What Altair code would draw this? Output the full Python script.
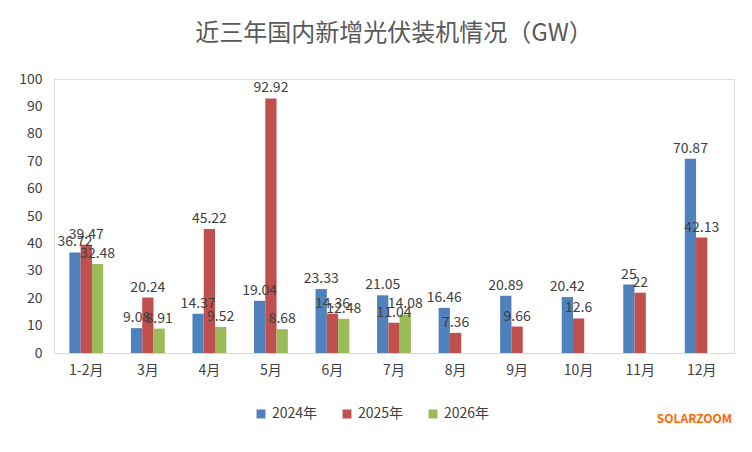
import altair as alt
import pandas as pd

months = ["1-2月", "3月", "4月", "5月", "6月", "7月", "8月", "9月", "10月", "11月", "12月"]
y2024 = [36.72, 9.08, 14.37, 19.04, 23.33, 21.05, 16.46, 20.89, 20.42, 25, 70.87]
y2025 = [39.47, 20.24, 45.22, 92.92, 14.36, 11.04, 7.36, 9.66, 12.6, 22, 42.13]
y2026 = [32.48, 8.91, 9.52, 8.68, 12.48, 14.08]
series = ["2024年", "2025年", "2026年"]
colors = ["#4f81bd", "#c0504d", "#9bbb59"]
y_ticks = [0, 10, 20, 30, 40, 50, 60, 70, 80, 90, 100]

rows = []
for s, vals in zip(series, [y2024, y2025, y2026]):
    for m, v in zip(months, vals):
        rows.append({"month": m, "series": s, "value": v, "label": f"{v:g}"})
df = pd.DataFrame(rows)

base = alt.Chart(df).encode(
    x=alt.X("month:N", sort=months, title=None,
            scale=alt.Scale(paddingInner=0.45, paddingOuter=0.25),
            axis=alt.Axis(labelAngle=0, labelFontSize=14, labelColor="#404040",
                          domainColor="#d9d9d9", ticks=False, labelPadding=10)),
    xOffset=alt.XOffset("series:N", sort=series),
)

bars = base.mark_bar().encode(
    y=alt.Y("value:Q", title=None,
            scale=alt.Scale(domain=[0, 100], nice=False),
            axis=alt.Axis(values=y_ticks, tickCount=11, grid=False, domain=False,
                          ticks=False, labelFontSize=14, labelColor="#404040",
                          labelPadding=12, labelOverlap=False, labelSeparation=0)),
    color=alt.Color("series:N", sort=series,
                    scale=alt.Scale(domain=series, range=colors),
                    legend=alt.Legend(orient="none", legendX=200, legendY=328,
                                      direction="horizontal", title=None,
                                      symbolType="square", labelFontSize=14,
                                      labelColor="#404040", symbolSize=80,
                                      columnPadding=22)),
)

text = base.mark_text(dy=-10, fontSize=14, color="#404040").encode(
    y="value:Q", text="label:N"
)

mark = alt.Chart(pd.DataFrame({"t": ["SOLARZOOM"]})).mark_text(
    color="#ff6600", fontSize=12, fontWeight="bold", align="right"
).encode(x=alt.value(678), y=alt.value(340), text="t:N")

chart = (bars + text + mark).properties(
    width=680, height=274,
    title=alt.TitleParams("近三年国内新增光伏装机情况（GW）", fontSize=24,
                          fontWeight="normal", color="#595959", offset=26),
    padding={"left": 10, "top": 14, "right": 10, "bottom": 5},
).configure_view(stroke=None).configure(font="Noto Sans CJK SC")

chart.save("out.html", embed_options={"renderer": "svg", "actions": False})
